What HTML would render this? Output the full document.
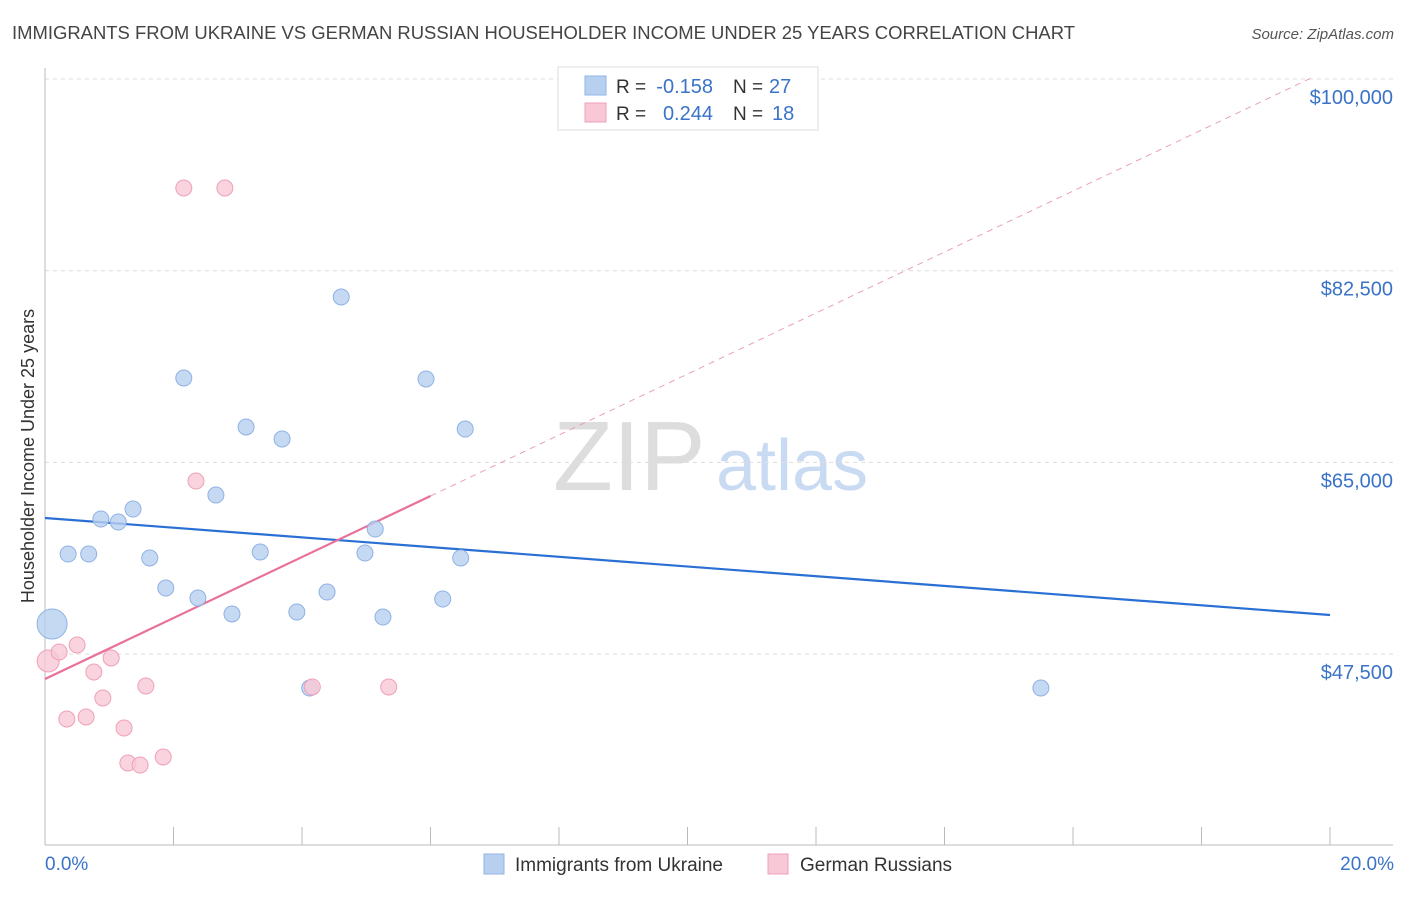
<!DOCTYPE html>
<html><head><meta charset="utf-8"><style>
body{margin:0;background:#fff;font-family:"Liberation Sans",sans-serif;}
svg text{font-family:"Liberation Sans",sans-serif;}
</style></head><body>
<svg id="chart" width="1406" height="892" viewBox="0 0 1406 892" xmlns="http://www.w3.org/2000/svg">
<text x="12" y="39" font-size="18" fill="#444" textLength="1063" lengthAdjust="spacingAndGlyphs">IMMIGRANTS FROM UKRAINE VS GERMAN RUSSIAN HOUSEHOLDER INCOME UNDER 25 YEARS CORRELATION CHART</text>
<text x="1394" y="39" font-size="15" fill="#555" font-style="italic" text-anchor="end">Source: ZipAtlas.com</text>
<g>
<text x="553" y="490" font-size="98" fill="#ddd" font-family="Liberation Serif,serif">ZIP</text>
<text x="716" y="490" font-size="72" fill="#c9dbf2">atlas</text>
</g>
<g id="grid"></g>
<g id="axes"></g>
<g id="lines"></g>
<g id="points"></g>
<text transform="translate(34,456) rotate(-90)" font-size="18" fill="#333" text-anchor="middle">Householder Income Under 25 years</text>
<text x="45" y="870" font-size="19" fill="#3a73c8">0.0%</text>
<text x="1394" y="870" font-size="19" fill="#3a73c8" text-anchor="end">20.0%</text>
<g>
<rect x="558" y="67" width="260" height="63" fill="#fff" stroke="#ddd"/>
<rect x="585" y="76" width="21" height="19" fill="#b8d0f0" stroke="#90b4e6"/>
<rect x="585" y="103" width="21" height="19" fill="#f8c8d6" stroke="#f0a0b8"/>
<text x="616" y="93" font-size="19" fill="#333">R =</text>
<text x="713" y="93" font-size="20" fill="#3a73c8" text-anchor="end">-0.158</text>
<text x="733" y="93" font-size="19" fill="#333">N =</text>
<text x="769" y="93" font-size="20" fill="#3a73c8">27</text>
<text x="616" y="120" font-size="19" fill="#333">R =</text>
<text x="713" y="120" font-size="20" fill="#3a73c8" text-anchor="end">0.244</text>
<text x="733" y="120" font-size="19" fill="#333">N =</text>
<text x="772" y="120" font-size="20" fill="#3a73c8">18</text>
</g>
<g>
<rect x="484" y="854" width="20" height="20" fill="#b8d0f0" stroke="#90b4e6"/>
<text x="515" y="871" font-size="19" fill="#333">Immigrants from Ukraine</text>
<rect x="768" y="854" width="20" height="20" fill="#f8c8d6" stroke="#f0a0b8"/>
<text x="800" y="871" font-size="19" fill="#333">German Russians</text>
</g>
</svg>
<script>
const yTicks=[47500,65000,82500,100000];
const yTickLabels=["$47,500","$65,000","$82,500","$100,000"];
const xTicks=[0,2,4,6,8,10,12,14,16,18,20];
const blueX=[0.11,0.36,0.68,0.87,1.14,1.37,1.63,1.88,2.16,2.38,2.66,2.91,3.13,3.35,3.69,3.92,4.12,4.39,4.61,4.98,5.14,5.26,5.93,6.19,6.47,6.54,15.5];
const blueY=[50247,56637,56637,59832,59558,60745,56272,53533,72704,52620,62023,51160,68231,56820,67135,51343,44405,53168,80099,56728,58919,50886,72613,52529,56272,68048,44405];
const pinkX=[0.05,0.22,0.34,0.5,0.64,0.76,0.9,1.03,1.23,1.29,1.48,1.57,1.84,2.16,2.35,2.8,4.16,5.35];
const pinkY=[46870,47692,41576,48331,41758,45866,43492,47144,40753,37558,37375,44588,38106,90049,63301,90049,44496,44496];
const blueTrend=[[0,59924],[20,51069]];
const pinkTrend=[[0,45226],[6,61932]];
const pinkDash=[[6,61932],[19.7,100070]];
const X=v=>45+v/20*1285;
const Y=v=>79+(100000-v)/17500*191.7;
const NS="http://www.w3.org/2000/svg";
function mk(parent,tag,attrs){const e=document.createElementNS(NS,tag);for(const k in attrs)e.setAttribute(k,attrs[k]);document.getElementById(parent).appendChild(e);return e;}
yTicks.forEach((t,i)=>{
 const g=mk('grid','line',{x1:45,x2:1393,y1:Y(t),y2:Y(t),stroke:'#ddd','stroke-dasharray':'4,4'});
 
 
 const l=mk('axes','text',{x:1393,y:Y(t)+25,'font-size':20,fill:'#3a73c8','text-anchor':'end'});
 l.textContent=yTickLabels[i];
 
 
});
const ax=mk('axes','line',{x1:45,x2:1393,y1:845,y2:845,stroke:'#bbb'});


const ay=mk('axes','line',{x1:45,x2:45,y1:68,y2:845,stroke:'#bbb'});


xTicks.forEach(t=>{const k=mk('axes','line',{x1:X(t),x2:X(t),y1:827,y2:845,stroke:'#bbb'});
 
 });
function tl(p,c,w,d,name){const l=mk('lines','line',{x1:X(p[0][0]),y1:Y(p[0][1]),x2:X(p[1][0]),y2:Y(p[1][1]),stroke:c,'stroke-width':w});if(d)l.setAttribute('stroke-dasharray',d);
 
 }
tl(pinkDash,'#e8a0b8',1,'6,5','pink-trend-extension');
tl(blueTrend,'#2a6fd4',2.2,null,'blue-trend-line');
tl(pinkTrend,'#e8709a',2.2,null,'pink-trend-line');
blueX.forEach((x,i)=>{const c=mk('points','circle',{cx:X(x),cy:Y(blueY[i]),r:i===0?15:8,fill:'#b8d0f0','fill-opacity':0.8,stroke:'#8fb2e4'});
 
 });
pinkX.forEach((x,i)=>{const c=mk('points','circle',{cx:X(x),cy:Y(pinkY[i]),r:i===0?11:8,fill:'#f8c8d6','fill-opacity':0.8,stroke:'#f0a0b8'});
 
 });
</script>
</body></html>
